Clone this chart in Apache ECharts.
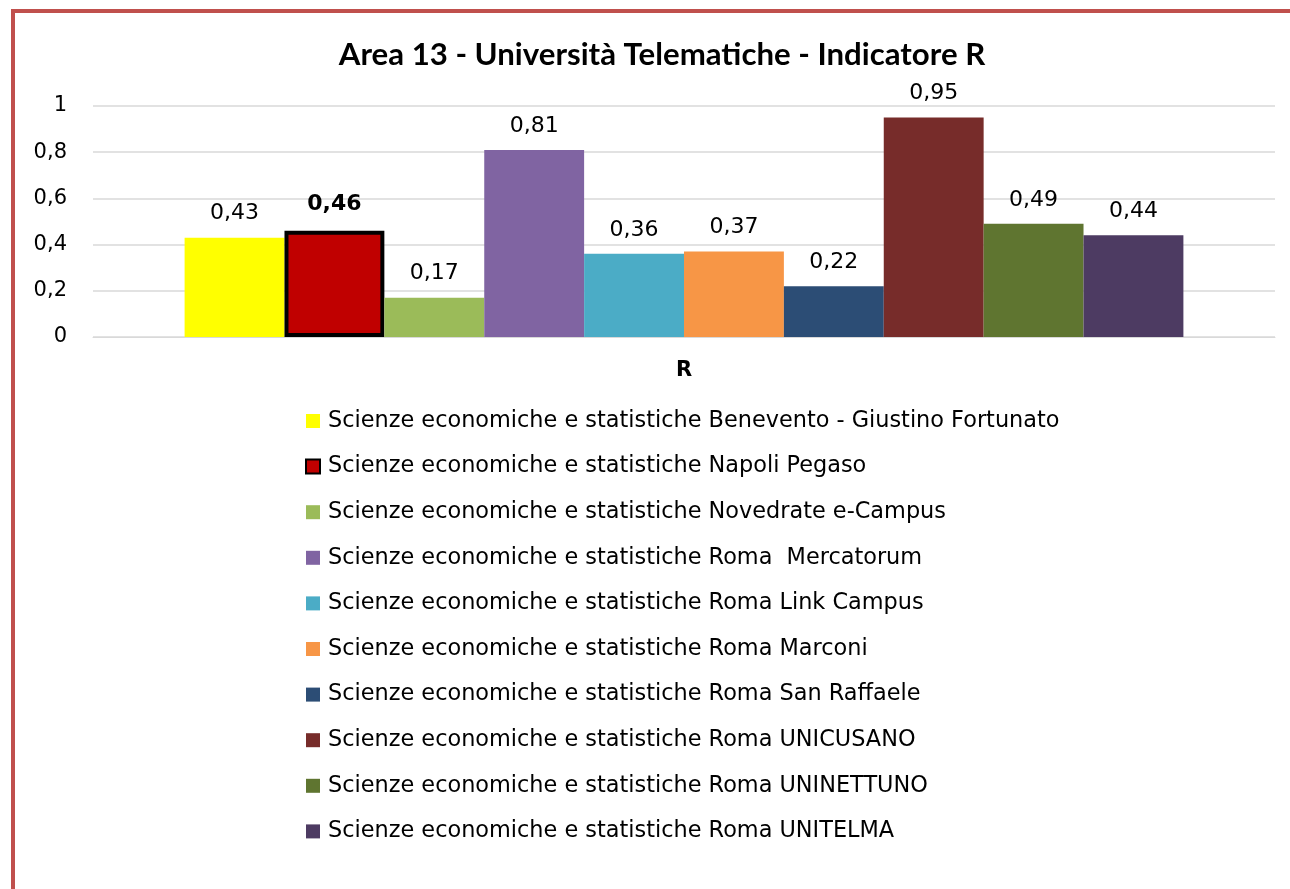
<!DOCTYPE html>
<html lang="it">
<head>
    <meta charset="UTF-8">
    <title>Area 13 - Indicatore R</title>
    <style>
        html, body { margin: 0; padding: 0; background: #fff; }
        #main { position: absolute; left: 0; top: 0; width: 1290px; height: 889px; }
        #frame {
            position: absolute; left: 11px; top: 9px; width: 1279px; height: 880px;
            border-left: 4px solid #c0504d; border-top: 4px solid #c0504d;
            box-sizing: border-box; pointer-events: none;
        }
    </style>
    <script src="https://cdn.jsdelivr.net/npm/echarts@6/dist/echarts.min.js"></script>
</head>
<body>
    <div id="main"></div>
    <div id="frame"></div>
    <script>
        const categories = ['R'];
        const seriesNames = [
            'Scienze economiche e statistiche Benevento - Giustino Fortunato',
            'Scienze economiche e statistiche Napoli Pegaso',
            'Scienze economiche e statistiche Novedrate e-Campus',
            'Scienze economiche e statistiche Roma  Mercatorum',
            'Scienze economiche e statistiche Roma Link Campus',
            'Scienze economiche e statistiche Roma Marconi',
            'Scienze economiche e statistiche Roma San Raffaele',
            'Scienze economiche e statistiche Roma UNICUSANO',
            'Scienze economiche e statistiche Roma UNINETTUNO',
            'Scienze economiche e statistiche Roma UNITELMA'
        ];
        const values = [0.43, 0.46, 0.17, 0.81, 0.36, 0.37, 0.22, 0.95, 0.49, 0.44];
        const colors = ['#ffff00', '#c00000', '#9bbb59', '#8064a2', '#4bacc6',
                        '#f79646', '#2c4d75', '#772c2a', '#5f7530', '#4d3b62'];
        const highlighted = 1; // Napoli Pegaso

        const fmt = v => String(v).replace('.', ',');

        const chart = echarts.init(document.getElementById('main'));

        const series = seriesNames.map((name, i) => ({
            name: name,
            type: 'bar',
            barGap: '0%',
            barCategoryGap: '15.5%',
            data: [values[i]],
            itemStyle: i === highlighted
                ? { color: colors[i], borderColor: '#000', borderWidth: 4 }
                : { color: colors[i] },
            label: {
                show: true,
                position: 'top',
                distance: i === highlighted ? 15 : 13,
                fontFamily: 'DejaVu Sans',
                fontSize: 22,
                color: '#000',
                fontWeight: i === highlighted ? 'bold' : 'normal',
                formatter: p => fmt(p.value)
            }
        }));

        chart.setOption({
            animation: false,
            title: {
                text: 'Area 13 - Università Telematiche - Indicatore R',
                left: 657,
                textAlign: 'center',
                top: 34,
                textStyle: { fontFamily: 'Lato', fontWeight: 'bold', fontSize: 31.2, color: '#000' }
            },
            legend: {
                orient: 'vertical',
                left: 305,
                top: 410,
                padding: 0,
                itemWidth: 14,
                itemHeight: 14,
                itemGap: 23.6,
                icon: 'rect',
                data: seriesNames,
                textStyle: { fontFamily: 'DejaVu Sans', fontSize: 22.4, color: '#000', lineHeight: 22, padding: [0, 0, 0, 3] }
            },
            grid: { left: 93, right: 15, top: 106, bottom: 552 },
            xAxis: {
                type: 'category',
                data: categories,
                axisLine: { lineStyle: { color: '#d9d9d9', width: 1 } },
                axisTick: { show: false },
                axisLabel: { margin: 23, fontFamily: 'DejaVu Sans', fontWeight: 'bold', fontSize: 21, color: '#000' }
            },
            yAxis: {
                type: 'value',
                min: 0,
                max: 1,
                interval: 0.2,
                axisLine: { show: false },
                axisTick: { show: false },
                splitLine: { lineStyle: { color: '#d9d9d9', width: 1.5 } },
                axisLabel: { margin: 26, fontFamily: 'DejaVu Sans', fontSize: 21, color: '#000', formatter: v => fmt(v) }
            },
            series: series
        });
    </script>
</body>
</html>
